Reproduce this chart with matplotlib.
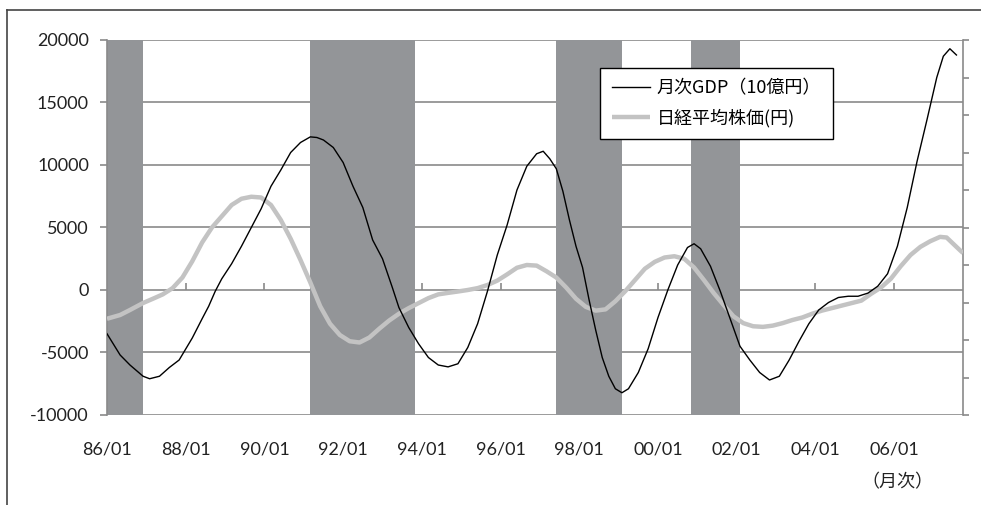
import matplotlib
matplotlib.use("Agg")
import matplotlib.pyplot as plt
from matplotlib.lines import Line2D

plt.rcParams['font.family'] = ['Lato', 'Noto Sans CJK JP', 'DejaVu Sans']
plt.rcParams['axes.unicode_minus'] = False
JP = ['Noto Sans CJK JP', 'DejaVu Sans']

# 月次GDP (10億円), cyclical component
gdp_months = ['86/01', '86/05', '86/08', '86/12', '87/02', '87/05', '87/08', '87/11',
              '88/03', '88/06', '88/08', '88/10', '88/12', '89/03', '89/06', '89/09',
              '89/12', '90/03', '90/06', '90/09', '90/12', '91/03', '91/05', '91/07',
              '91/10', '92/01', '92/04', '92/07', '92/10', '93/01', '93/04', '93/06',
              '93/09', '93/12', '94/03', '94/06', '94/09', '94/12', '95/03', '95/06',
              '95/09', '95/12', '96/03', '96/06', '96/09', '96/12', '97/02', '97/04',
              '97/06', '97/08', '97/10', '97/12', '98/02', '98/04', '98/06', '98/08',
              '98/10', '98/12', '99/02', '99/04', '99/07', '99/10', '00/01', '00/04',
              '00/07', '00/10', '00/12', '01/02', '01/05', '01/08', '01/11', '02/02',
              '02/05', '02/08', '02/11', '03/02', '03/05', '03/08', '03/11', '04/02',
              '04/05', '04/08', '04/11', '05/02', '05/05', '05/08', '05/11', '06/02',
              '06/05', '06/08', '06/11', '07/02', '07/04', '07/06', '07/08']
gdp_values = [-3500, -5200, -6000, -6900, -7100, -6900, -6200, -5600,
              -3840, -2300, -1300, -100, 900, 2100, 3500, 5000,
              6500, 8300, 9600, 11000, 11800, 12250, 12200, 12000,
              11400, 10200, 8300, 6600, 4000, 2500, 200, -1400,
              -3000, -4300, -5400, -6000, -6150, -5900, -4600, -2700,
              -100, 2800, 5200, 8000, 9900, 10900, 11100, 10500,
              9700, 7900, 5600, 3500, 1800, -800, -3200, -5400,
              -6900, -7900, -8220, -7900, -6600, -4700, -2200, 0,
              2000, 3400, 3700, 3300, 1900, -100, -2300, -4500,
              -5600, -6600, -7200, -6900, -5600, -4100, -2700, -1600,
              -1000, -600, -500, -500, -250, 300, 1300, 3500,
              6600, 10300, 13600, 17000, 18700, 19300, 18800]

# 日経平均株価 (円), cyclical component
nikkei_months = ['86/01', '86/05', '86/08', '86/12', '87/03', '87/06', '87/09', '87/12',
                 '88/03', '88/06', '88/09', '88/12', '89/03', '89/06', '89/09', '89/12',
                 '90/03', '90/06', '90/09', '90/12', '91/03', '91/06', '91/09', '91/12',
                 '92/03', '92/06', '92/09', '92/12', '93/03', '93/06', '93/09', '93/12',
                 '94/03', '94/06', '94/09', '94/12', '95/03', '95/06', '95/09', '95/12',
                 '96/03', '96/06', '96/09', '96/12', '97/03', '97/06', '97/09', '97/12',
                 '98/03', '98/06', '98/09', '98/12', '99/03', '99/06', '99/09', '99/12',
                 '00/03', '00/06', '00/09', '00/12', '01/03', '01/06', '01/09', '01/12',
                 '02/03', '02/06', '02/09', '02/12', '03/03', '03/06', '03/09', '03/12',
                 '04/03', '04/06', '04/09', '04/12', '05/03', '05/06', '05/09', '05/12',
                 '06/03', '06/06', '06/09', '06/12', '07/03', '07/05', '07/07', '07/09',
                 '07/10']
nikkei_values = [-2300, -2000, -1600, -1040, -700, -350, 150, 1000,
                 2300, 3800, 5000, 5900, 6800, 7300, 7460, 7400,
                 6800, 5600, 4100, 2400, 600, -1300, -2700, -3600,
                 -4100, -4200, -3800, -3100, -2450, -1900, -1450, -1050,
                 -650, -350, -230, -120, 0, 150, 400, 750,
                 1250, 1780, 2000, 1950, 1500, 1000, 200, -700,
                 -1350, -1650, -1550, -900, -100, 800, 1700, 2250,
                 2600, 2700, 2500, 1800, 800, -250, -1200, -2100,
                 -2650, -2900, -2950, -2850, -2650, -2400, -2200, -1900,
                 -1650, -1450, -1250, -1050, -850, -300, 200, 900,
                 1900, 2800, 3450, 3900, 4250, 4200, 3700, 3200,
                 2960]

# recession periods (shaded)
recession_start = ['86/01', '91/03', '97/06', '00/11']
recession_end = ['86/12', '93/11', '99/02', '02/02']

xtick_labels = ['86/01', '88/01', '90/01', '92/01', '94/01', '96/01',
                '98/01', '00/01', '02/01', '04/01', '06/01']
yticks = [-10000, -5000, 0, 5000, 10000, 15000, 20000]


def to_year(s):
    yy, mm = s.split('/')
    yy = int(yy)
    return (1900 + yy if yy >= 50 else 2000 + yy) + (int(mm) - 1) / 12


grid_col = '#8a8a8a'
band_col = '#939598'
text_col = '#222222'

fig = plt.figure(figsize=(9.81, 5.05), dpi=100)
ax = fig.add_axes([107 / 981, 1 - 415 / 505, 856 / 981, 375 / 505])

for s, e in zip(recession_start, recession_end):
    ax.axvspan(to_year(s), to_year(e), color=band_col, lw=0, zorder=1)

ax.plot([to_year(m) for m in nikkei_months], nikkei_values, color='#c3c3c3',
        lw=3.2, solid_capstyle='butt', zorder=3, label='日経平均株価(円)')
ax.plot([to_year(m) for m in gdp_months], gdp_values, color='black',
        lw=1.0, zorder=4, label='月次GDP（10億円）')

ax.set_xlim(1986.0, 2007.75)
ax.set_ylim(-10000, 20000)
ax.set_yticks(yticks)
ax.yaxis.grid(True, color=grid_col, lw=1.2)
ax.set_axisbelow(True)

xt = [to_year(m) for m in xtick_labels]
ax.set_xticks(xt, xtick_labels)
ax.tick_params(axis='x', length=0, pad=19, labelsize=13, labelcolor=text_col)
ax.tick_params(axis='y', length=5, width=1.2, color=grid_col, pad=8,
               labelsize=13, labelcolor=text_col)

for side in ['top', 'bottom']:
    ax.spines[side].set_visible(False)
for side in ['left', 'right']:
    ax.spines[side].set_color(grid_col)
    ax.spines[side].set_linewidth(1.2)

# small tick marks on the zero line
sec = ax.secondary_xaxis(1 / 3)
sec.set_xticks(xt[1:])
sec.tick_params(direction='in', length=5, width=1.2, color=grid_col, labelbottom=False)
sec.spines['bottom'].set_visible(False)

# right axis: ticks only
ax2 = ax.twinx()
ax2.set_ylim(0, 10)
ax2.set_yticks(range(11))
ax2.tick_params(axis='y', length=4, width=1.2, color=grid_col, labelright=False)
for side in ['top', 'bottom', 'left', 'right']:
    ax2.spines[side].set_visible(False)

handles, labels = ax.get_legend_handles_labels()
leg = ax2.legend(handles[::-1], labels[::-1], loc='upper left',
                 bbox_to_anchor=(600 / 981, 1 - 68 / 505), bbox_transform=fig.transFigure,
                 prop={'family': JP, 'size': 13}, frameon=True, fancybox=False,
                 framealpha=1, edgecolor='black', borderpad=0.65, labelspacing=0.6,
                 handlelength=2.1, handletextpad=0.4, borderaxespad=0)
leg.get_frame().set_linewidth(1.0)
leg.set_zorder(10)

fig.text(897 / 981, 1 - 482 / 505, '（月次）', ha='center', va='center',
         fontsize=13, family=JP, color=text_col)

# outer frame (partly visible)
fig.add_artist(Line2D([7 / 981, 1.0], [1 - 10 / 505, 1 - 10 / 505],
                      transform=fig.transFigure, color='#444444', lw=1.2))
fig.add_artist(Line2D([7 / 981, 7 / 981], [0, 1 - 10 / 505],
                      transform=fig.transFigure, color='#444444', lw=1.2))

fig.savefig('out.png', dpi=100)
